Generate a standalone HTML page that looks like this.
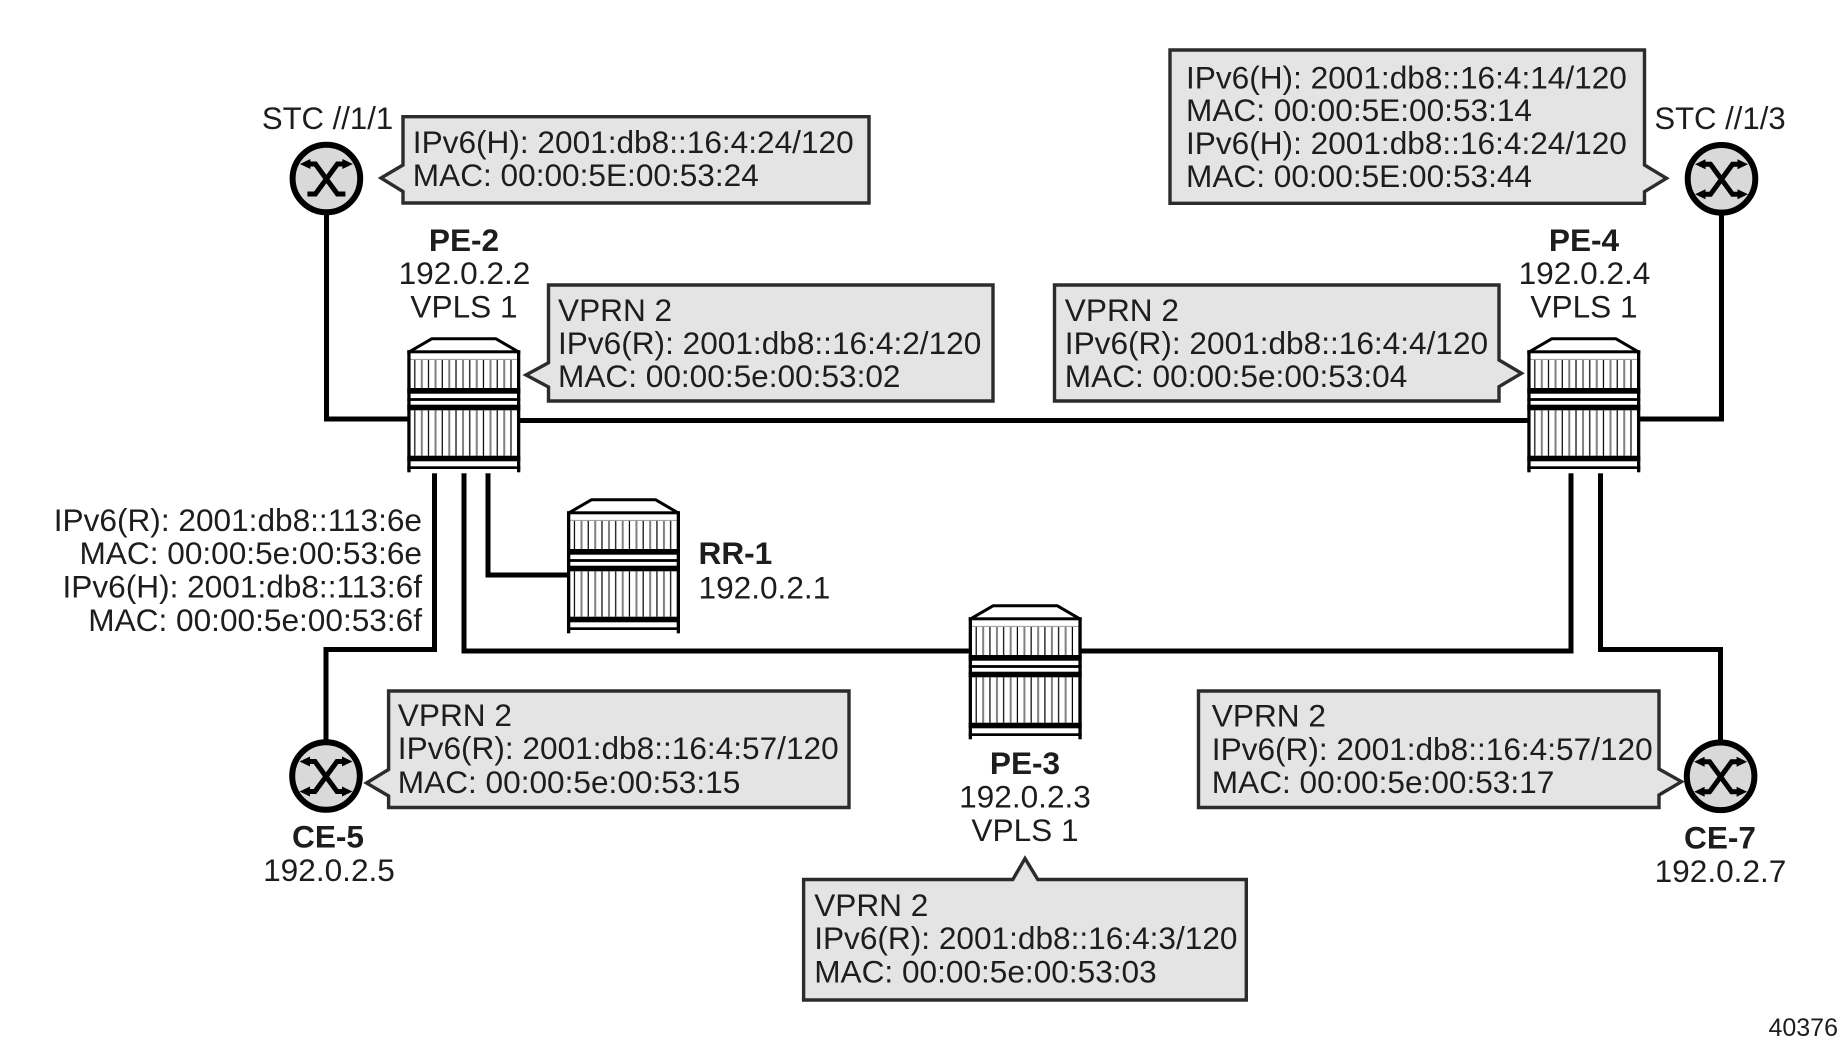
<!DOCTYPE html>
<html>
<head>
<meta charset="utf-8">
<style>
html,body{margin:0;padding:0;background:#fff;width:1838px;height:1045px;overflow:hidden}
svg{display:block}
text{font-family:"Liberation Sans",Arial,sans-serif;font-size:31.6px;fill:#1d1d1d;transform:translateY(-0.8px)}
.b{font-weight:bold}
.m{text-anchor:middle}
.e{text-anchor:end}
.c{fill:#e4e4e4;stroke:#2c2c2c;stroke-width:3.4;stroke-linejoin:miter}
.l{fill:none;stroke:#000;stroke-width:5;stroke-linejoin:miter}
</style>
</head>
<body>
<svg width="1838" height="1045" viewBox="0 0 1838 1045" xmlns="http://www.w3.org/2000/svg">
<defs>
<pattern id="st" x="2.7" y="0" width="13.74" height="10" patternUnits="userSpaceOnUse">
<rect x="4.2" width="1.2" height="10" fill="#000"/>
<rect x="10.8" width="2" height="10" fill="#808080"/>
</pattern>
<g id="router">
<path d="M2,14.5 L24.4,1.5 L88.7,1.5 L111,14.5" fill="#fff" stroke="#000" stroke-width="3" stroke-linecap="butt" stroke-linejoin="round"/>
<rect x="1.4" y="14" width="110" height="122" fill="#fff"/>
<rect x="3.3" y="22.4" width="106.4" height="28.4" fill="url(#st)"/>
<rect x="3.3" y="73" width="106.4" height="45.4" fill="url(#st)"/>
<rect x="0" y="13" width="113" height="3" fill="#000"/>
<rect x="3.3" y="21.6" width="106.4" height="1" fill="#999"/>
<rect x="0" y="50.7" width="113" height="5.7" fill="#000"/>
<rect x="0" y="60.8" width="113" height="2.8" fill="#000"/>
<rect x="0" y="67.4" width="113" height="5.6" fill="#000"/>
<rect x="0" y="118.4" width="113" height="5.6" fill="#000"/>
<rect x="0" y="129" width="113" height="2.7" fill="#000"/>
<rect x="0" y="13" width="3.3" height="122" fill="#000"/>
<rect x="109.7" y="13" width="3.3" height="122" fill="#000"/>
</g>
<g id="xbase">
<circle cx="0" cy="0" r="33.8" fill="#d9d9d9" stroke="#000" stroke-width="6"/>
<path d="M-19,15.5 L-11,15.5 L11,-14.5 L20,-14.5" fill="none" stroke="#000" stroke-width="5"/>
<path d="M19,15.5 L11,15.5 L-11,-14.5 L-20,-14.5" fill="none" stroke="#000" stroke-width="5"/>
<path d="M-26.5,-14.5 L-16,-19.5 L-16,-9.5 Z M26.5,-14.5 L16,-19.5 L16,-9.5 Z" fill="#000"/>
</g>
<g id="xfull">
<use href="#xbase"/>
<path d="M-26.5,15.5 L-16,10.5 L-16,20.5 Z M26.5,15.5 L16,10.5 L16,20.5 Z" fill="#000"/>
</g>
</defs>

<!-- connectors -->
<path class="l" d="M326.5,210 V419 H410"/>
<path class="l" d="M518,420.5 H1530"/>
<path class="l" d="M1637,419 H1721.5 V210"/>
<path class="l" d="M434.5,472 V649.5 H326 V745"/>
<path class="l" d="M464,472 V651 H972"/>
<path class="l" d="M1078,651 H1571 V472"/>
<path class="l" d="M488,472 V575 H570"/>
<path class="l" d="M1600.5,472 V649.5 H1720.5 V745"/>

<!-- routers -->
<use href="#router" x="407.3" y="337.3"/>
<use href="#router" x="1527.3" y="337.3"/>
<use href="#router" x="567" y="498.3"/>
<use href="#router" x="968.7" y="604.3"/>

<!-- CE / STC icons -->
<use href="#xbase" x="326.4" y="178.5"/>
<use href="#xfull" x="1721.5" y="178.8"/>
<use href="#xfull" x="326" y="776"/>
<use href="#xfull" x="1720.6" y="776.3"/>

<!-- callouts -->
<path class="c" d="M403,116.7 H869 V203 H403 V191.6 L381,178 L403,165 Z"/>
<text x="412.8" y="154">IPv6(H): 2001:db8::16:4:24/120</text>
<text x="412.8" y="186.7">MAC: 00:00:5E:00:53:24</text>

<path class="c" d="M548.5,285 H993 V401 H548.5 V387 L526,375 L548.5,362.7 Z"/>
<text x="558" y="321.7">VPRN 2</text>
<text x="558" y="355">IPv6(R): 2001:db8::16:4:2/120</text>
<text x="558" y="387.7">MAC: 00:00:5e:00:53:02</text>

<path class="c" d="M1170,50 H1644.5 V165 L1666.5,178.3 L1644.5,191.7 V203.3 H1170 Z"/>
<text x="1186" y="89.3">IPv6(H): 2001:db8::16:4:14/120</text>
<text x="1186" y="121.7">MAC: 00:00:5E:00:53:14</text>
<text x="1186" y="155">IPv6(H): 2001:db8::16:4:24/120</text>
<text x="1186" y="187.7">MAC: 00:00:5E:00:53:44</text>

<path class="c" d="M1054.5,285 H1499 V360 L1521.5,373.3 L1499,386.7 V401 H1054.5 Z"/>
<text x="1064.8" y="321.7">VPRN 2</text>
<text x="1064.8" y="355">IPv6(R): 2001:db8::16:4:4/120</text>
<text x="1064.8" y="387.7">MAC: 00:00:5e:00:53:04</text>

<path class="c" d="M388.6,691 H849 V807.5 H388.6 V796 L366.5,783 L388.6,769.5 Z"/>
<text x="397.8" y="726.7">VPRN 2</text>
<text x="397.8" y="760">IPv6(R): 2001:db8::16:4:57/120</text>
<text x="397.8" y="794">MAC: 00:00:5e:00:53:15</text>

<path class="c" d="M1198.5,691 H1659 V769 L1681.5,781.7 L1659,795 V807.5 H1198.5 Z"/>
<text x="1211.8" y="727.3">VPRN 2</text>
<text x="1211.8" y="760.7">IPv6(R): 2001:db8::16:4:57/120</text>
<text x="1211.8" y="794">MAC: 00:00:5e:00:53:17</text>

<path class="c" d="M803.6,879.5 H1012.8 L1025,858.5 L1037.8,879.5 H1246.3 V1000 H803.6 Z"/>
<text x="814.2" y="916.7">VPRN 2</text>
<text x="814.2" y="950">IPv6(R): 2001:db8::16:4:3/120</text>
<text x="814.2" y="983.3">MAC: 00:00:5e:00:53:03</text>

<!-- labels -->
<text class="m" x="327.5" y="130" style="font-size:31.1px">STC //1/1</text>
<text class="m" x="1720" y="130" style="font-size:31.1px">STC //1/3</text>

<text class="m b" x="464" y="251.7">PE-2</text>
<text class="m" x="464.5" y="285">192.0.2.2</text>
<text class="m" x="464" y="318.3">VPLS 1</text>

<text class="m b" x="1584" y="251.7">PE-4</text>
<text class="m" x="1584.5" y="285">192.0.2.4</text>
<text class="m" x="1584" y="318.3">VPLS 1</text>

<text class="e" x="422" y="531.7">IPv6(R): 2001:db8::113:6e</text>
<text class="e" x="422" y="565">MAC: 00:00:5e:00:53:6e</text>
<text class="e" x="422" y="598.3">IPv6(H): 2001:db8::113:6f</text>
<text class="e" x="422" y="631.7">MAC: 00:00:5e:00:53:6f</text>

<text class="b" x="698.5" y="565">RR-1</text>
<text x="698.5" y="599.5">192.0.2.1</text>

<text class="m b" x="328" y="848.5">CE-5</text>
<text class="m" x="329" y="882">192.0.2.5</text>

<text class="m b" x="1025" y="775">PE-3</text>
<text class="m" x="1025" y="808.3">192.0.2.3</text>
<text class="m" x="1025" y="841.7">VPLS 1</text>

<text class="m b" x="1720" y="849.5">CE-7</text>
<text class="m" x="1720.5" y="883">192.0.2.7</text>

<text class="e" x="1838" y="1037" style="font-size:25px">40376</text>
</svg>
</body>
</html>
